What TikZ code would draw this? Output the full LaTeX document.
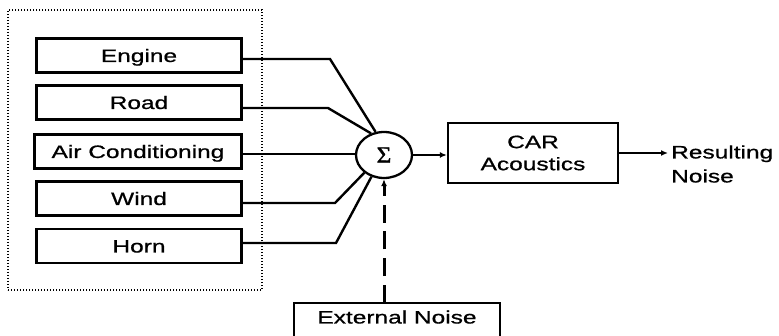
\documentclass[tikz,border=0pt]{standalone}
\usepackage{fontspec}
\setmainfont{Liberation Sans}[FakeStretch=1.36,FakeBold=0.8]
\newfontfamily\sigmafont{Liberation Serif}[FakeStretch=1.1,FakeBold=1.5]
\usetikzlibrary{arrows.meta,shapes.geometric}
\begin{document}
\begin{tikzpicture}[x=1pt,y=-1pt,
  every node/.style={font=\fontsize{18}{22}\selectfont, inner sep=0pt},
  srcbox/.style={draw, line width=2.3pt, minimum width=205pt, minimum height=34pt, text height=13pt, text depth=0pt},
  wire/.style={line width=2.4pt},
  arr/.style={wire, -{Latex[length=7pt,width=6pt]}},
]
\useasboundingbox (0,0) rectangle (779,336);
% dotted group frame
\node (frame) [draw, line width=1.2pt, dash pattern=on 1.3pt off 1.7pt, minimum width=254pt, minimum height=280pt] at (135,150) {};
% source boxes
\node (engine) [srcbox] at (139,55.5) {Engine};
\node (road)   [srcbox] at (139,102.5) {Road};
\node (ac)     [srcbox, minimum width=207pt] at (138,151.5) {Air Conditioning};
\node (wind)   [srcbox] at (139,198.5) {Wind};
\node (horn)   [srcbox] at (139,246) {Horn};
% summing junction
\node (sum) [draw, line width=2.3pt, ellipse, minimum width=56pt, minimum height=46pt] at (384,155) {\fontsize{23}{23}\selectfont\sigmafont Σ};
% car acoustics
\node (car) [draw, line width=2.3pt, minimum width=170pt, minimum height=60pt, align=center] at (533,153) {CAR\\Acoustics};
% result
\coordinate (resend) at (668,153);
\node (res) [anchor=west, align=left, font=\fontsize{18}{24}\selectfont] at (671,164) {Resulting\\Noise};
% external noise (bottom edge outside picture)
\node (ext) [minimum width=206pt, minimum height=33pt, text height=13pt, text depth=5pt] at (397,319.5) {External Noise};
\draw[line width=2.3pt] (ext.south west) -- (ext.north west) -- (ext.north east) -- (ext.south east);
% corner points
\coordinate (ce) at (330,59);
\coordinate (cr) at (328,108);
\coordinate (cw) at (335,203);
\coordinate (ch) at (336,243);
% connectors
\draw[wire] (engine.east |- ce) -- (ce) -- (sum.110);
\draw[wire] (road.east |- cr) -- (cr) -- (sum.121);
\draw[wire] (ac.east |- 0,154) -- (sum.west |- 0,154);
\draw[wire] (wind.east |- cw) -- (cw) -- (sum.222);
\draw[wire] (horn.east |- ch) -- (ch) -- (sum.240);
\draw[arr] (sum.east) -- (car.west |- sum.east);
\draw[arr] (car.east) -- (resend);
\draw[arr, line width=3pt, dash pattern=on 18pt off 8.7pt] (ext.north -| sum.south) -- (sum.south);
\end{tikzpicture}
\end{document}
